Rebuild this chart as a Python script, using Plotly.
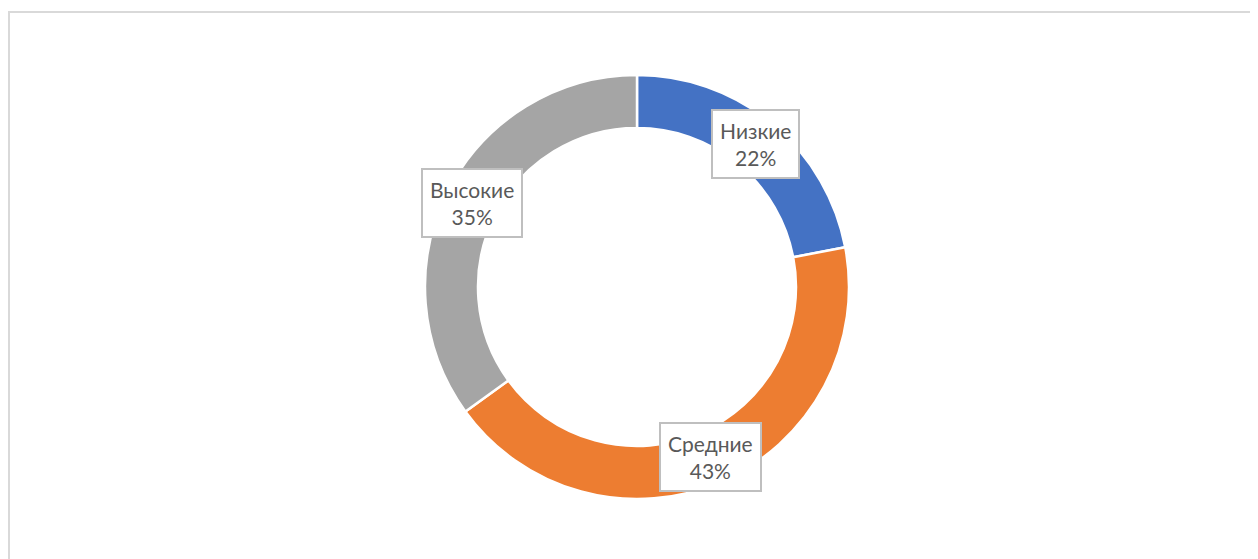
import math
import plotly.graph_objects as go

labels = ["Низкие", "Средние", "Высокие"]
values = [22, 43, 35]
colors = ["#4472C4", "#ED7D31", "#A5A5A5"]

# page body has an 8px margin; the figure fills the rest of the window
OFF = 8
W, H = 1258 - OFF, 559 - OFF
cx, cy = 637 - OFF, 287 - OFF
R_out, R_in = 212, 159

fig = go.Figure()
fig.add_trace(go.Pie(
    labels=labels, values=values, hole=R_in / R_out, sort=False,
    direction="clockwise", rotation=0,
    marker=dict(colors=colors, line=dict(color="white", width=2.5)),
    textinfo="none", hoverinfo="label+percent", showlegend=False,
    domain=dict(x=[(cx - R_out) / W, (cx + R_out) / W],
                y=[(H - cy - R_out) / H, (H - cy + R_out) / H]),
))

total = sum(values)
cum = 0
r_mid = (R_out + R_in) / 2
for lab, v in zip(labels, values):
    ang = 2 * math.pi * (cum + v / 2) / total
    cum += v
    x = cx + r_mid * math.sin(ang)
    y = cy - r_mid * math.cos(ang)
    pct = round(100 * v / total)
    fig.add_annotation(
        x=x / W, y=1 - y / H, xref="paper", yref="paper",
        text=f"{lab}<br>{pct}%", showarrow=False,
        font=dict(family="Lato, Open Sans, sans-serif", size=21, color="#595959"),
        bgcolor="white", bordercolor="#BFBFBF", borderwidth=2, borderpad=7,
        xanchor="center", yanchor="middle",
    )

fig.add_shape(type="rect", xref="paper", yref="paper",
              x0=1 / W, x1=(1251 - OFF) / W, y0=-0.05, y1=1 - (12 - OFF) / H,
              line=dict(color="#D9D9D9", width=2), fillcolor="rgba(0,0,0,0)")

fig.update_layout(width=W, height=H, margin=dict(l=0, r=0, t=0, b=0),
                  paper_bgcolor="white", plot_bgcolor="white")
fig.write_html("out.html")
